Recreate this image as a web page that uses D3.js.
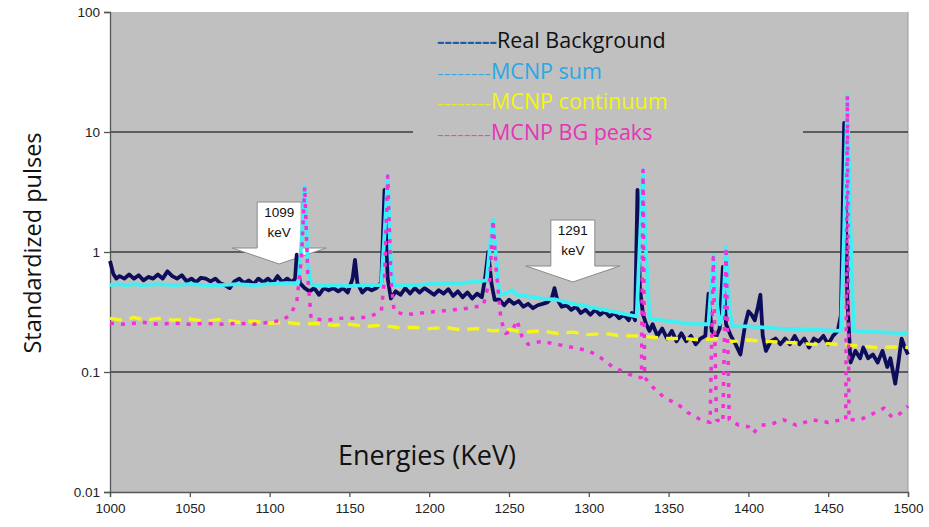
<!DOCTYPE html>
<html>
<head>
<meta charset="utf-8">
<script src="https://cdn.jsdelivr.net/npm/d3@7"></script>
<style>
  body { margin: 0; background: #fff; }
  svg { display: block; }
  .tick text { font-family: "Liberation Sans", Arial, sans-serif; font-size: 13.5px; fill: #222; }
</style>
</head>
<body>
<div id="chart"></div>
<script>
// energy axis and log axis ticks
const xTicks = [1000, 1050, 1100, 1150, 1200, 1250, 1300, 1350, 1400, 1450, 1500];
const yTicks = [0.01, 0.1, 1, 10, 100];
const gridValues = [0.1, 1, 10];

const legendNames = ['Real Background', 'MCNP sum', 'MCNP continuum', 'MCNP BG peaks'];
const arrowLabels = [['1099', 'keV'], ['1291', 'keV']];
const arrowEnergies = [1106, 1290];

// [energy keV, standardized pulses]
const realBg = [[1000,0.84],[1002,0.66],[1004,0.6],[1006,0.63],[1009,0.6],[1012,0.65],[1015,0.6],[1018,0.64],[1021,0.58],[1024,0.62],
  [1027,0.6],[1030,0.65],[1033,0.6],[1036,0.69],[1039,0.63],[1042,0.6],[1045,0.64],[1048,0.57],[1051,0.6],[1054,0.56],
  [1057,0.61],[1060,0.6],[1063,0.57],[1066,0.6],[1069,0.55],[1072,0.53],[1075,0.5],[1078,0.57],[1081,0.6],[1084,0.55],
  [1087,0.58],[1090,0.54],[1093,0.6],[1096,0.56],[1099,0.6],[1102,0.55],[1105,0.63],[1108,0.56],[1111,0.6],[1114,0.56],
  [1116,0.6],[1117,0.95],[1119,0.55],[1122,0.5],[1125,0.47],[1128,0.5],[1131,0.44],[1134,0.5],[1137,0.48],[1140,0.5],
  [1143,0.47],[1146,0.5],[1149,0.46],[1152,0.6],[1153.5,0.86],[1155,0.55],[1158,0.46],[1161,0.5],[1164,0.48],[1167,0.5],
  [1170,0.56],[1172,3.3],[1174,0.6],[1176,0.41],[1179,0.47],[1182,0.44],[1185,0.5],[1188,0.45],[1191,0.5],[1194,0.46],
  [1197,0.5],[1200,0.47],[1203,0.44],[1206,0.48],[1209,0.45],[1212,0.49],[1215,0.43],[1218,0.47],[1221,0.42],[1224,0.46],
  [1227,0.41],[1230,0.45],[1233,0.42],[1235,0.6],[1237,1.0],[1239,0.55],[1241,0.4],[1244,0.4],[1247,0.36],[1250,0.4],
  [1253,0.37],[1256,0.39],[1259,0.35],[1262,0.37],[1265,0.34],[1268,0.36],[1271,0.37],[1274,0.38],[1277,0.42],[1278.5,0.5],
  [1280,0.41],[1283,0.35],[1286,0.36],[1289,0.33],[1292,0.35],[1295,0.31],[1298,0.33],[1301,0.3],[1304,0.33],[1307,0.3],
  [1310,0.32],[1313,0.29],[1316,0.31],[1319,0.28],[1322,0.3],[1325,0.27],[1327,0.31],[1329,0.27],[1330.5,3.3],[1332,0.5],
  [1334,0.3],[1336,0.25],[1338,0.22],[1340,0.25],[1343,0.2],[1346,0.23],[1349,0.19],[1352,0.22],[1355,0.18],[1358,0.21],
  [1361,0.18],[1364,0.2],[1367,0.17],[1370,0.19],[1373,0.2],[1375,0.45],[1377,0.22],[1380,0.2],[1382,0.23],[1384,0.75],
  [1386,0.25],[1389,0.2],[1392,0.17],[1395,0.14],[1398,0.25],[1400,0.32],[1402,0.3],[1404,0.27],[1406,0.35],[1407.5,0.44],
  [1409,0.2],[1411,0.15],[1414,0.18],[1417,0.19],[1420,0.17],[1423,0.19],[1426,0.17],[1429,0.2],[1432,0.17],[1435,0.19],
  [1438,0.16],[1441,0.19],[1444,0.18],[1447,0.2],[1450,0.17],[1453,0.2],[1456,0.22],[1458,0.3],[1460,11.9],[1462,0.4],
  [1464,0.12],[1467,0.15],[1470,0.13],[1472,0.16],[1475,0.13],[1478,0.14],[1481,0.12],[1484,0.15],[1487,0.11],[1489,0.13],
  [1492,0.08],[1494,0.12],[1496,0.19],[1498,0.16],[1500,0.14]];

const mcnpSum = [[1000,0.53],[1005,0.54],[1010,0.53],[1015,0.54],[1020,0.53],[1030,0.54],[1040,0.53],[1050,0.54],[1060,0.53],
  [1070,0.53],[1080,0.54],[1090,0.53],[1100,0.54],[1110,0.55],[1118,0.55],[1120,1.2],[1122,3.5],[1124,0.8],[1126,0.54],
  [1130,0.52],[1140,0.53],[1150,0.52],[1160,0.53],[1170,0.53],[1172,1.4],[1174,4.3],[1176,0.8],[1178,0.53],[1190,0.53],
  [1200,0.54],[1210,0.55],[1220,0.55],[1230,0.57],[1236,0.58],[1238,1.1],[1240,1.85],[1242,0.9],[1244,0.44],[1248,0.45],
  [1252,0.48],[1255,0.44],[1260,0.43],[1270,0.41],[1280,0.4],[1290,0.37],[1300,0.35],[1310,0.33],[1320,0.31],[1330,0.29],
  [1332,1.2],[1334,4.8],[1336,0.9],[1338,0.28],[1345,0.27],[1355,0.26],[1365,0.25],[1375,0.25],[1377,0.6],[1378.5,0.94],
  [1380,0.4],[1382,0.25],[1384,0.3],[1386,1.1],[1388,0.35],[1390,0.24],[1400,0.24],[1420,0.23],[1440,0.225],[1458,0.22],
  [1460,1.5],[1462,20],[1464,1.5],[1466,0.22],[1480,0.215],[1500,0.21]];

const mcnpCont = [[1000,0.28],[1008,0.27],[1015,0.285],[1022,0.27],[1030,0.28],[1040,0.27],[1050,0.275],[1060,0.265],
  [1070,0.275],[1080,0.26],[1090,0.265],[1100,0.255],[1110,0.26],[1120,0.25],[1130,0.255],[1140,0.245],[1150,0.25],
  [1160,0.24],[1170,0.245],[1180,0.235],[1190,0.235],[1200,0.23],[1210,0.235],[1220,0.225],[1230,0.23],[1240,0.22],
  [1250,0.225],[1260,0.215],[1270,0.22],[1280,0.21],[1290,0.215],[1300,0.205],[1310,0.21],[1320,0.2],[1330,0.2],
  [1340,0.195],[1350,0.19],[1360,0.19],[1370,0.185],[1380,0.19],[1390,0.18],[1400,0.185],[1410,0.18],[1420,0.178],
  [1430,0.175],[1440,0.17],[1450,0.172],[1460,0.168],[1470,0.165],[1480,0.16],[1490,0.162],[1500,0.16]];

const mcnpPeaks = [[1000,0.255],[1010,0.25],[1020,0.26],[1030,0.25],[1040,0.255],[1050,0.25],[1060,0.255],[1070,0.25],
  [1080,0.255],[1090,0.25],[1100,0.26],[1108,0.27],[1113,0.3],[1117,0.38],[1120,0.9],[1122,3.5],[1124,0.6],[1126,0.28],
  [1135,0.27],[1145,0.28],[1155,0.28],[1163,0.29],[1170,0.32],[1172,0.6],[1174,4.3],[1176,0.6],[1178,0.32],[1185,0.3],
  [1195,0.31],[1205,0.32],[1215,0.33],[1225,0.34],[1234,0.36],[1238,0.6],[1240,1.85],[1242,0.7],[1245,0.27],[1248,0.21],
  [1252,0.22],[1255,0.27],[1258,0.2],[1262,0.17],[1270,0.18],[1280,0.17],[1290,0.16],[1300,0.15],[1308,0.13],[1315,0.11],
  [1322,0.1],[1330,0.09],[1333,0.09],[1334,4.8],[1335,0.09],[1340,0.075],[1348,0.06],[1355,0.055],[1362,0.046],[1370,0.04],
  [1376,0.038],[1378,0.9],[1380,0.04],[1384,0.038],[1386,1.1],[1388,0.04],[1394,0.036],[1400,0.035],[1403,0.031],
  [1408,0.036],[1415,0.037],[1422,0.04],[1430,0.036],[1440,0.04],[1450,0.038],[1458,0.04],[1461,0.04],[1462,20],[1463,0.04],
  [1470,0.04],[1478,0.045],[1485,0.05],[1490,0.042],[1495,0.045],[1500,0.052]];

const W = 929, H = 527;
const margin = { left: 110, right: 21, top: 12, bottom: 35 };

const x = d3.scaleLinear().domain([1000, 1500]).range([margin.left, W - margin.right]);
const y = d3.scaleLog().domain([0.01, 100]).range([H - margin.bottom, margin.top]);

const svg = d3.select('#chart').append('svg')
  .attr('width', W).attr('height', H);

// plot area
svg.append('rect')
  .attr('x', x(1000)).attr('y', y(100))
  .attr('width', x(1500) - x(1000)).attr('height', y(0.01) - y(100))
  .attr('fill', '#c0c0c0');
svg.append('line')
  .attr('x1', x(1500)).attr('x2', x(1500)).attr('y1', y(100)).attr('y2', y(0.01))
  .attr('stroke', '#9a9a9a').attr('stroke-width', 1);

svg.append('g').selectAll('line')
  .data(gridValues).join('line')
  .attr('x1', x(1000)).attr('x2', x(1500))
  .attr('y1', d => y(d)).attr('y2', d => y(d))
  .attr('stroke', '#3c3c3c').attr('stroke-width', 1.4);

// axes
const yAxis = svg.append('g')
  .attr('transform', `translate(${x(1000)},0)`)
  .call(d3.axisLeft(y).tickValues(yTicks).tickFormat(d => d3.format('~g')(d)).tickSize(6).tickPadding(4));
const xAxis = svg.append('g')
  .attr('transform', `translate(0,${y(0.01)})`)
  .call(d3.axisBottom(x).tickValues(xTicks).tickFormat(d3.format('d')).tickSize(5).tickPadding(6));
[yAxis, xAxis].forEach(g => {
  g.select('.domain').attr('stroke', '#555').attr('stroke-width', 1.3);
  g.selectAll('.tick line').attr('stroke', '#555').attr('stroke-width', 1.3);
});

// block arrows pointing at 1099 and 1291 keV
const arrowTops = [202, 220];
arrowEnergies.forEach((e, i) => {
  const cx = x(e), top = arrowTops[i], sh = top + 46, tip = sh + 16;
  const pts = [[cx - 22, top], [cx + 22, top], [cx + 22, sh], [cx + 47, sh], [cx, tip], [cx - 47, sh], [cx - 22, sh]];
  svg.append('polygon')
    .attr('points', pts.map(p => p.join(',')).join(' '))
    .attr('fill', '#fff').attr('stroke', '#8a8a8a').attr('stroke-width', 1);
  arrowLabels[i].forEach((t, j) => {
    svg.append('text')
      .attr('x', cx).attr('y', top + 15 + j * 20)
      .attr('text-anchor', 'middle')
      .style('font-family', '"Liberation Sans", Arial, sans-serif')
      .style('font-size', '13.5px').style('fill', '#111')
      .text(t);
  });
});

// series
const line = d3.line().x(d => x(d[0])).y(d => y(d[1]));
const series = [
  { data: realBg, color: '#0d0d5c', width: 3.8, dash: null },
  { data: mcnpSum, color: '#3ef0f4', width: 3.8, dash: null },
  { data: mcnpCont, color: '#f5f51c', width: 3.4, dash: '12,8' },
  { data: mcnpPeaks, color: '#f230d8', width: 3.5, dash: '4,7' }
];
series.forEach(s => {
  svg.append('path')
    .datum(s.data)
    .attr('d', line)
    .attr('fill', 'none')
    .attr('stroke', s.color)
    .attr('stroke-width', s.width)
    .attr('stroke-linejoin', 'round')
    .attr('stroke-dasharray', s.dash);
});

// legend box sits over the 10 gridline
svg.append('rect')
  .attr('x', 413).attr('y', 20).attr('width', 390).attr('height', 126)
  .attr('fill', '#c0c0c0');
const legendDash = ['#1a5eb0', '#3aa6dc', '#eaea20', '#e848c4'];
const legendText = ['#111', '#2aa8e4', '#f4f414', '#e832b8'];
legendNames.forEach((n, i) => {
  const t = svg.append('text')
    .attr('x', 437).attr('y', 48 + i * 30.7)
    .style('font-family', '"Open Sans", sans-serif')
    .style('font-size', '21.5px');
  t.append('tspan').attr('fill', legendDash[i])
    .style('font-size', i === 0 ? '17px' : '14px')
    .style('font-weight', i === 0 ? 'bold' : 'normal')
    .attr('textLength', i === 0 ? 60 : 54).attr('lengthAdjust', 'spacingAndGlyphs')
    .text('--------');
  t.append('tspan').attr('fill', legendText[i]).text(n);
});

// axis titles
svg.append('text')
  .attr('transform', `translate(41,243) rotate(-90)`)
  .attr('text-anchor', 'middle')
  .style('font-family', '"Open Sans", sans-serif')
  .style('font-size', '23.5px').style('fill', '#111')
  .text('Standardized pulses');
svg.append('text')
  .attr('x', 427).attr('y', 465)
  .attr('text-anchor', 'middle')
  .style('font-family', '"Open Sans", sans-serif')
  .style('font-size', '27px').style('fill', '#111')
  .text('Energies (KeV)');
</script>
</body>
</html>
